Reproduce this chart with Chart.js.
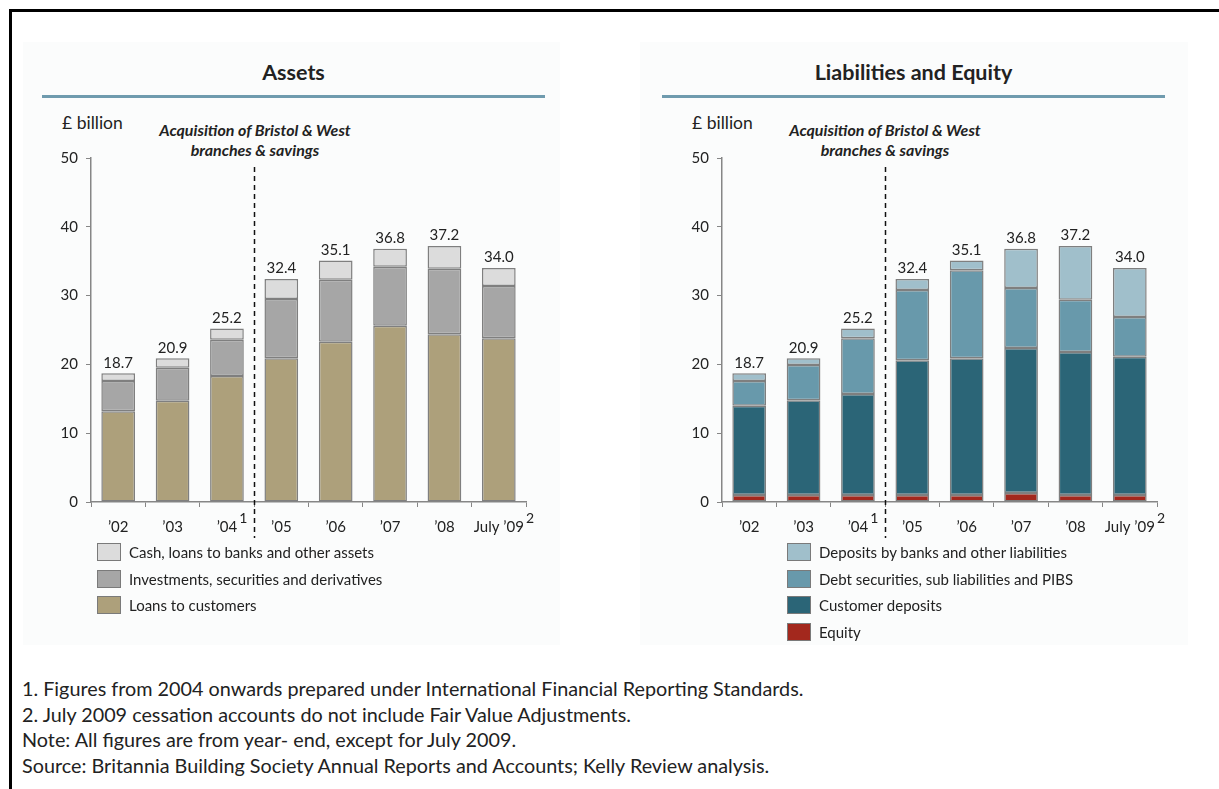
<!DOCTYPE html>
<html>
<head>
<meta charset="utf-8">
<script src="https://cdn.jsdelivr.net/npm/chart.js@4/dist/chart.umd.min.js"></script>
<style>
  html, body { margin: 0; background: #fff; font-family: Lato, "Open Sans", sans-serif; color: #222; overflow: hidden; }
  #page { position: relative; width: 1219px; height: 789px; overflow: hidden; }
  .topline { position: absolute; left: 9px; top: 9px; width: 1210px; height: 3px; background: #000; }
  .leftline { position: absolute; left: 9px; top: 9px; width: 3px; height: 780px; background: #000; }
  .panel { position: absolute; top: 42px; height: 603px; background: #fbfcfc; }
  .title { position: absolute; font-weight: bold; font-size: 21.5px; text-align: center; width: 503px; top: 59px; }
  .rule { position: absolute; top: 95px; height: 3px; width: 503px; background: #6f9bae; }
  .unit { position: absolute; top: 112px; font-size: 17.5px; }
  .note { position: absolute; font-weight: bold; font-style: italic; font-size: 16px; text-align: center; width: 300px; line-height: 20px; top: 120px; }
  .chartbox { position: absolute; top: 141px; width: 510px; height: 409px; }
  .legend { position: absolute; top: 539px; font-size: 15px; }
  .legend div { height: 26.5px; display: flex; align-items: center; }
  .legend span.box { display: inline-block; width: 22px; height: 16px; border: 1.5px solid #7a7a7a; margin-right: 8px; }
  .foot { position: absolute; left: 22px; top: 676px; font-size: 19.8px; line-height: 25.5px; }
</style>
</head>
<body>
<div id="page">
  <div class="topline"></div>
  <div class="leftline"></div>
  <div class="panel" style="left:23px;width:537px"></div>
  <div class="panel" style="left:640px;width:548px"></div>

  <div class="title" style="left:42px">Assets</div>
  <div class="rule" style="left:42px"></div>
  <div class="title" style="left:662px">Liabilities and Equity</div>
  <div class="rule" style="left:662px"></div>

  <div class="unit" style="left:62px">£ billion</div>
  <div class="unit" style="left:692px">£ billion</div>
  <div class="note" style="left:105px">Acquisition of Bristol &amp; West<br>branches &amp; savings</div>
  <div class="note" style="left:735px">Acquisition of Bristol &amp; West<br>branches &amp; savings</div>

  <div class="chartbox" style="left:30px"><canvas id="assets"></canvas></div>
  <div class="chartbox" style="left:661px"><canvas id="liab"></canvas></div>

  <div class="legend" id="legAssets" style="left:97px"></div>
  <div class="legend" id="legLiab" style="left:787px"></div>

  <div class="foot">
    1. Figures from 2004 onwards prepared under International Financial Reporting Standards.<br>
    2. July 2009 cessation accounts do not include Fair Value Adjustments.<br>
    Note: All figures are from year- end, except for July 2009.<br>
    Source: Britannia Building Society Annual Reports and Accounts; Kelly Review analysis.
  </div>
</div>

<script>
// categories and footnote markers
const years = ["\u201902", "\u201903", "\u201904", "\u201905", "\u201906", "\u201907", "\u201908", "July \u201909"];
const yearNotes = ["", "", "1", "", "", "", "", "2"];
const totals = ["18.7", "20.9", "25.2", "32.4", "35.1", "36.8", "37.2", "34.0"];
const yTicks = [0, 10, 20, 30, 40, 50];

// assets (£ billion)
const loansToCustomers = [13.2, 14.7, 18.3, 20.9, 23.3, 25.6, 24.4, 23.8];
const investments = [4.4, 4.8, 5.3, 8.6, 9.0, 8.6, 9.5, 7.6];
const cashAndOther = [1.1, 1.4, 1.6, 2.9, 2.8, 2.6, 3.3, 2.6];

// liabilities and equity (£ billion)
const equity = [1.0, 1.0, 1.0, 1.0, 1.0, 1.3, 1.0, 1.0];
const customerDeposits = [13.0, 13.8, 14.7, 19.6, 19.9, 21.1, 20.8, 20.1];
const debtSecurities = [3.6, 5.1, 8.1, 10.2, 12.8, 8.7, 7.6, 5.8];
const bankDeposits = [1.1, 1.0, 1.4, 1.6, 1.4, 5.7, 7.8, 7.1];

const fontFam = "Lato, 'Open Sans', sans-serif";
const axisGrey = "#868686";
const tickFont = "15px " + fontFam;

// totals above bars, superscripts on tick labels, dashed divider
const extras = {
  id: "extras",
  afterDatasetsDraw(chart) {
    const ctx = chart.ctx;
    const last = chart.getDatasetMeta(chart.data.datasets.length - 1);
    const x = chart.scales.x;
    ctx.save();
    ctx.fillStyle = "#222";
    ctx.font = tickFont;
    ctx.textAlign = "center";
    ctx.textBaseline = "bottom";
    last.data.forEach((bar, i) => ctx.fillText(totals[i], bar.x, bar.y - 3));

    // superscripts
    ctx.textAlign = "left";
    ctx.textBaseline = "alphabetic";
    yearNotes.forEach((n, i) => {
      if (!n) return;
      ctx.font = tickFont;
      const w = ctx.measureText(years[i]).width;
      const px = x.getPixelForValue(i);
      ctx.font = "14px " + fontFam;
      ctx.fillText(n, px + w / 2 + 2, x.top + 21);
    });

    // dashed divider between '04 and '05
    const m = chart.getDatasetMeta(0).data;
    const dx = Math.round((m[2].x + m[3].x) / 2) + 0.5;
    ctx.strokeStyle = "#111";
    ctx.lineWidth = 1.5;
    ctx.setLineDash([5, 4]);
    ctx.beginPath();
    ctx.moveTo(dx, 26);
    ctx.lineTo(dx, x.top + 36);
    ctx.stroke();
    ctx.restore();
  }
};

function makeChart(id, sets) {
  return new Chart(document.getElementById(id), {
    type: "bar",
    data: {
      labels: years,
      datasets: sets.map(s => ({
        label: s.label,
        data: s.data,
        backgroundColor: s.color,
        borderColor: "#7f7f7f",
        borderWidth: 1.5,
        borderSkipped: false,
        categoryPercentage: 1,
        barPercentage: 0.62
      }))
    },
    options: {
      responsive: true,
      maintainAspectRatio: false,
      animation: false,
      layout: { padding: { top: 0, right: 14, left: 0, bottom: 0 } },
      plugins: { legend: { display: false }, tooltip: { enabled: false } },
      scales: {
        x: {
          stacked: true,
          grid: { offset: true, drawOnChartArea: false, tickLength: 5, color: axisGrey },
          border: { color: axisGrey, width: 1.5 },
          ticks: { color: "#222", font: { size: 15, family: fontFam }, padding: 11, maxRotation: 0 },
          afterFit: s => { s.height = 48; }
        },
        y: {
          stacked: true,
          min: 0, max: 50,
          afterBuildTicks: s => { s.ticks = yTicks.map(v => ({ value: v })); },
          grid: { drawOnChartArea: false, tickLength: 5, color: axisGrey },
          border: { color: axisGrey, width: 1.5 },
          ticks: { color: "#222", font: { size: 15, family: fontFam }, padding: 8 },
          afterFit: s => { s.width = 61; }
        }
      }
    },
    plugins: [extras]
  });
}

const assetSets = [
  { label: "Loans to customers", data: loansToCustomers, color: "#ada07b" },
  { label: "Investments, securities and derivatives", data: investments, color: "#a6a6a6" },
  { label: "Cash, loans to banks and other assets", data: cashAndOther, color: "#dcdcdc" }
];
const liabSets = [
  { label: "Equity", data: equity, color: "#a3281d" },
  { label: "Customer deposits", data: customerDeposits, color: "#2b6577" },
  { label: "Debt securities, sub liabilities and PIBS", data: debtSecurities, color: "#6899ab" },
  { label: "Deposits by banks and other liabilities", data: bankDeposits, color: "#a0bfcb" }
];

makeChart("assets", assetSets);
makeChart("liab", liabSets);

function buildLegend(id, sets) {
  const el = document.getElementById(id);
  sets.slice().reverse().forEach(s => {
    const row = document.createElement("div");
    row.innerHTML = '<span class="box" style="background:' + s.color + '"></span>' + s.label;
    el.appendChild(row);
  });
}
buildLegend("legAssets", assetSets);
buildLegend("legLiab", liabSets);
</script>
</body>
</html>
